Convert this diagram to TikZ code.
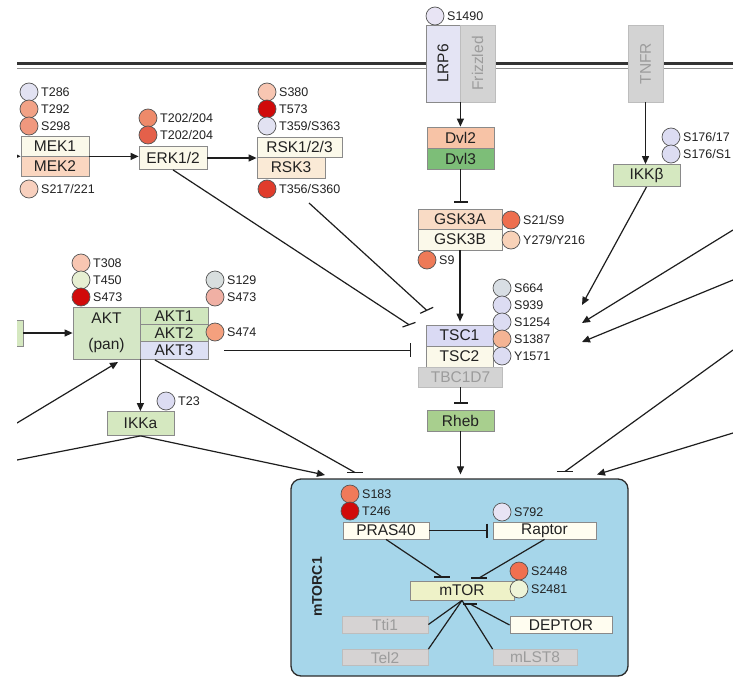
\documentclass[tikz,border=0pt]{standalone}
\usepackage{fontspec}
\usepackage{graphicx}
\setmainfont{Liberation Sans}
\usetikzlibrary{arrows.meta,calc}
\definecolor{txt}{HTML}{222222}
\definecolor{bline}{HTML}{8A8A8A}
\definecolor{cline}{HTML}{1E1E1E}
\definecolor{sline}{HTML}{555555}
\definecolor{memd}{HTML}{333333}
\definecolor{meml}{HTML}{8C8C8C}
\definecolor{cream}{HTML}{FBF9EA}
\definecolor{mekpink}{HTML}{FAD6C0}
\definecolor{rskpeach}{HTML}{FAEAD6}
\definecolor{dvltwo}{HTML}{F7C3A6}
\definecolor{dvlthree}{HTML}{7DBE78}
\definecolor{gska}{HTML}{F9DBC5}
\definecolor{tscone}{HTML}{DADAF4}
\definecolor{rheb}{HTML}{A8CF8E}
\definecolor{aktpan}{HTML}{D5E7C6}
\definecolor{aktgreen}{HTML}{D0E6BE}
\definecolor{aktlav}{HTML}{DDE0F4}
\definecolor{ikk}{HTML}{D5E8C0}
\definecolor{lrp}{HTML}{E4E4F4}
\definecolor{gfill}{HTML}{D3D3D3}
\definecolor{gline}{HTML}{BDBDBD}
\definecolor{gtxt}{HTML}{9C9C9C}
\definecolor{mtorcbg}{HTML}{A6D6EA}
\definecolor{mtorcline}{HTML}{2C2C2C}
\definecolor{white2}{HTML}{FFFDF0}
\definecolor{mtorf}{HTML}{EEF2C8}
\definecolor{igfill}{HTML}{D6D3D3}
\definecolor{lav}{HTML}{E2E2F2}
\definecolor{lavb}{HTML}{DCDCF2}
\definecolor{graylav}{HTML}{D8DEE4}
\definecolor{salA}{HTML}{F2A286}
\definecolor{salB}{HTML}{F0987E}
\definecolor{peach}{HTML}{F8D0BE}
\definecolor{orA}{HTML}{EE8A6A}
\definecolor{orB}{HTML}{E4604A}
\definecolor{pinkA}{HTML}{F8C6B2}
\definecolor{redD}{HTML}{D00A0A}
\definecolor{redM}{HTML}{E03C2C}
\definecolor{orC}{HTML}{EE6E4E}
\definecolor{peachB}{HTML}{F8D2B8}
\definecolor{orD}{HTML}{EE7A58}
\definecolor{salC}{HTML}{F4B494}
\definecolor{yelg}{HTML}{E6EFD2}
\definecolor{grayc}{HTML}{D8DEDE}
\definecolor{pinkB}{HTML}{F0B0A4}
\definecolor{orE}{HTML}{F4A07E}
\definecolor{orF}{HTML}{F07A5A}
\definecolor{lavc}{HTML}{E8E4F4}
\definecolor{orG}{HTML}{F07050}
\definecolor{yelh}{HTML}{EEF4D8}
\tikzset{
  box/.style={draw=bline, line width=0.8pt, inner sep=0pt, text=txt, font=\fontsize{15.5}{18}\selectfont},
  gbox/.style={box, fill=gfill, draw=gline, text=gtxt},
  site/.style={circle, draw=sline, line width=0.7pt, minimum size=18pt, inner sep=0pt},
  lbl/.style={anchor=west, inner sep=0pt, text=txt, font=\fontsize{12.5}{13}\selectfont},
  con/.style={line width=1.2pt, draw=cline},
  arr/.style={con, -{Triangle[length=8pt,width=7pt]}},
  inh/.style={con, -{Bar[width=14pt,line width=1.2pt]}},
}
\newcommand\psite[5]{\node[site,fill=#4] (#1) at (#2,#3) {}; \node[lbl] (#1l) at (#2+12,#3) {#5};}
\begin{document}
\begin{tikzpicture}[x=1pt,y=-1pt]
\useasboundingbox (0,0) rectangle (733,680);
\fill[white] (0,0) rectangle (733,680);
\begin{scope}
\clip (17,0) rectangle (733,680);
% membrane
\draw[line width=2.3pt, draw=memd] (17,63.5) -- (733,63.5);
\draw[line width=1.4pt, draw=meml] (17,68.2) -- (733,68.2);
% receptors
\node[box, fill=lrp, minimum width=34pt, minimum height=77pt] (LRP6) at (443,63.5) {\rotatebox{90}{LRP6}};
\node[gbox, minimum width=35pt, minimum height=77pt] (Frz) at (477.5,63.5) {\rotatebox{90}{Frizzled}};
\node[gbox, minimum width=35pt, minimum height=77pt] (TNFR) at (645.5,63.5) {\rotatebox{90}{TNFR}};
% Wnt branch
\node[box, fill=dvltwo, minimum width=67pt, minimum height=21pt] (Dvl2) at (460.5,137.5) {Dvl2};
\node[box, fill=dvlthree, minimum width=67pt, minimum height=21pt] (Dvl3) at (460.5,158.5) {Dvl3};
\node[box, fill=gska, minimum width=84pt, minimum height=20pt] (GSK3A) at (460,219) {GSK3A};
\node[box, fill=cream, minimum width=84pt, minimum height=21pt] (GSK3B) at (460,239.5) {GSK3B};
\node[box, fill=tscone, minimum width=67pt, minimum height=21pt] (TSC1) at (459.5,335.5) {TSC1};
\node[box, fill=cream, minimum width=67pt, minimum height=21pt] (TSC2) at (459.5,356.5) {TSC2};
\node[gbox, minimum width=84pt, minimum height=20pt] (TBC) at (460.5,377) {TBC1D7};
\node[box, fill=rheb, minimum width=67pt, minimum height=21pt] (Rheb) at (460.5,420.5) {Rheb};
% MAPK branch
\node[box, fill=cream, minimum width=68pt, minimum height=20pt] (MEK1) at (55,146) {MEK1};
\node[box, fill=mekpink, minimum width=68pt, minimum height=20pt] (MEK2) at (55,166) {MEK2};
\node[box, fill=cream, minimum width=68pt, minimum height=23pt] (ERK) at (173,158) {ERK1/2};
\node[box, fill=cream, minimum width=85pt, minimum height=20pt] (RSK1) at (299.5,147) {RSK1/2/3};
\node[box, fill=rskpeach, minimum width=68pt, minimum height=21pt] (RSK3) at (291,167.5) {RSK3};
% AKT
\node[box, fill=ikk, minimum width=26pt, minimum height=26pt] (lbox) at (10,333) {};
\node[box, fill=aktpan, minimum width=67pt, minimum height=52pt, align=center, font=\fontsize{15.5}{26}\selectfont] (AKT) at (106.5,333) {AKT\\(pan)};
\node[box, fill=aktgreen, minimum width=68pt, minimum height=17.3pt] (AKT1) at (174,315.8) {AKT1};
\node[box, fill=aktgreen, minimum width=68pt, minimum height=17.3pt] (AKT2) at (174,333.1) {AKT2};
\node[box, fill=aktlav, minimum width=68pt, minimum height=17.3pt] (AKT3) at (174,350.4) {AKT3};
\node[box, fill=ikk, minimum width=67pt, minimum height=24pt] (IKKa) at (140.5,423.5) {IKKa};
\node[box, fill=ikk, minimum width=67pt, minimum height=22pt] (IKKb) at (646.5,175.5) {IKKβ};
% mTORC1
\node[draw=mtorcline, fill=mtorcbg, line width=1.3pt, rounded corners=10pt, minimum width=337pt, minimum height=197pt, inner sep=0pt] (mTORC1) at (459.5,577.5) {};
\node[rotate=90, inner sep=0pt, text=txt, font=\fontsize{14}{16}\selectfont\bfseries] (mTORC1l) at (317,587) {mTORC1};
\node[box, fill=white2, minimum width=86pt, minimum height=17pt] (PRAS) at (386,530.5) {PRAS40};
\node[box, fill=white2, minimum width=103pt, minimum height=17pt] (Raptor) at (544.5,530.5) {Raptor};
\node[box, fill=mtorf, minimum width=104pt, minimum height=19pt] (mTOR) at (462,590.5) {mTOR};
\node[box, fill=white2, minimum width=102pt, minimum height=17pt] (DEPTOR) at (561,625) {DEPTOR};
\node[box, fill=igfill, draw=gline, text=gtxt, minimum width=86pt, minimum height=17pt] (Tti1) at (385,624.5) {Tti1};
\node[box, fill=igfill, draw=gline, text=gtxt, minimum width=86pt, minimum height=16pt] (Tel2) at (385,657.5) {Tel2};
\node[box, fill=igfill, draw=gline, text=gtxt, minimum width=84pt, minimum height=16pt] (mLST8) at (535,657.5) {mLST8};
% sites
\psite{s1490}{435}{16}{lavc}{S1490}
\psite{t286}{29}{92}{lav}{T286}
\psite{t292}{29}{109}{salA}{T292}
\psite{s298}{29}{126}{salB}{S298}
\psite{s217}{29}{189}{peach}{S217/221}
\psite{tea}{148}{118}{orA}{T202/204}
\psite{teb}{148}{135}{orB}{T202/204}
\psite{s380}{267}{92}{pinkA}{S380}
\psite{t573}{267}{109}{redD}{T573}
\psite{t359}{267}{126}{lav}{T359/S363}
\psite{t356}{267}{189}{redM}{T356/S360}
\psite{ska}{671}{137}{lavb}{S176/17}
\psite{skb}{671}{154}{lavb}{S176/S1}
\psite{s21}{511}{220}{orC}{S21/S9}
\psite{y279}{511}{240}{peachB}{Y279/Y216}
\psite{s9}{427}{260}{orD}{S9}
\psite{s664}{502}{288}{graylav}{S664}
\psite{s939}{502}{305}{lavb}{S939}
\psite{s1254}{502}{322}{lavb}{S1254}
\psite{s1387}{502}{339}{salC}{S1387}
\psite{y1571}{502}{356}{lavb}{Y1571}
\psite{t308}{81}{263}{pinkA}{T308}
\psite{t450}{81}{280}{yelg}{T450}
\psite{s473a}{81}{297}{redD}{S473}
\psite{s129}{215}{280}{grayc}{S129}
\psite{s473b}{215}{297}{pinkB}{S473}
\psite{s474}{215}{332}{orE}{S474}
\psite{t23}{166}{401}{lavb}{T23}
\psite{s183}{350}{494}{orF}{S183}
\psite{t246}{350}{511}{redD}{T246}
\psite{s792}{502}{512}{lavc}{S792}
\psite{s2448}{519}{571}{orG}{S2448}
\psite{s2481}{519}{589}{yelh}{S2481}
% coordinates
\coordinate (mekin) at (12,156);
\coordinate (erkE) at (409,324.7);
\coordinate (rskS) at (309,203);
\coordinate (rskE) at (426.7,310.3);
\coordinate (aktE) at (411,350.4);
\coordinate (lin1) at (17,423);
\coordinate (lin2) at (17,460);
\coordinate (aktB) at (118,362);
\coordinate (akt3B) at (155,360);
\coordinate (mA) at (325,475);
\coordinate (mB) at (355,472.5);
\coordinate (mC) at (565,471.5);
\coordinate (mD) at (597,474.5);
\coordinate (r1) at (733,230);
\coordinate (r2) at (733,280);
\coordinate (r3) at (733,350);
\coordinate (r4) at (733,433);
\coordinate (t1) at (582,305);
\coordinate (t2) at (582,323);
\coordinate (t3) at (582,342);
\coordinate (pbar) at (442,577);
\coordinate (rbar) at (479,578);
\coordinate (dbar) at (470,604);
% connectors
\draw[arr] (LRP6.south east) -- (LRP6.south east |- Dvl2.north);
\draw[inh, shorten >=6pt] (Dvl3.south) -- (Dvl3.south |- GSK3A.north);
\draw[arr, shorten >=3pt] (GSK3B.south) -- (GSK3B.south |- TSC1.north);
\draw[inh, shorten >=6pt] (TBC.south) -- (TBC.south |- Rheb.north);
\draw[arr, shorten >=4pt] (Rheb.south) -- (Rheb.south |- mTORC1.north);
\draw[arr] (mekin) -- (MEK1.south west);
\draw[arr] (MEK1.south east) -- (MEK1.south east -| ERK.west);
\draw[arr] (ERK.east) -- (ERK.east -| RSK3.west);
\draw[con] (ERK.south) -- (erkE);
\draw[con] ($(erkE)+(-6.5,2.3)$) -- ($(erkE)+(6.5,-2.3)$);
\draw[con] (rskS) -- (rskE);
\draw[con] ($(rskE)+(-6.5,3)$) -- ($(rskE)+(6.5,-3)$);
\draw[inh, shorten <=16pt] (AKT3.east) -- (aktE);
\draw[arr] (lbox.east) -- (AKT.west);
\draw[arr] (AKT.south east) -- (AKT.south east |- IKKa.north);
\draw[arr] (lin1) -- (aktB);
\draw[con] (lin2) -- (IKKa.south);
\draw[arr] (IKKa.south) -- (mA);
\draw[con] (akt3B) -- (mB);
\draw[con] ($(mB)+(-8,0)$) -- ($(mB)+(8,0)$);
\draw[arr] (TNFR.south) -- (TNFR.south |- IKKb.north);
\draw[arr] (IKKb.south) -- (t1);
\draw[arr] (r1) -- (t2);
\draw[arr] (r2) -- (t3);
\draw[con] (r3) -- (mC);
\draw[con] ($(mC)+(-8,0)$) -- ($(mC)+(8,0)$);
\draw[arr] (r4) -- (mD);
\draw[inh, shorten >=5pt] (PRAS.east) -- (Raptor.west);
\draw[con] (PRAS.south) -- (pbar);
\draw[con] ($(pbar)+(-8,0)$) -- ($(pbar)+(8,0)$);
\draw[con] (Raptor.south) -- (rbar);
\draw[con] ($(rbar)+(-8,0)$) -- ($(rbar)+(8,0)$);
\draw[con] (DEPTOR.west) -- (dbar);
\draw[con] ($(dbar)+(-7,0)$) -- ($(dbar)+(7,0)$);
\draw[con] (mTOR.south) -- (Tti1.east);
\draw[con] (mTOR.south) -- (Tel2.north east);
\draw[con] (mTOR.south) -- (mLST8.north west);
\end{scope}
\end{tikzpicture}
\end{document}
